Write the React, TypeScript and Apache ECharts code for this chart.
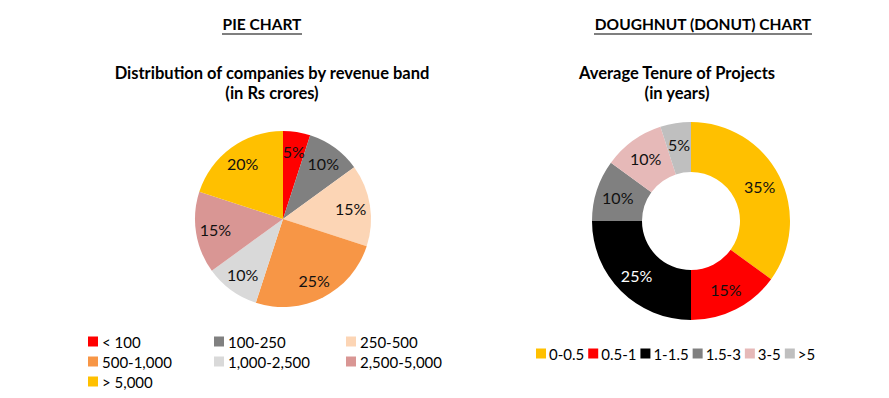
import React, { useEffect, useRef } from "react";
import * as echarts from "echarts";

const pieNames = ["< 100", "100-250", "250-500", "500-1,000", "1,000-2,500", "2,500-5,000", "> 5,000"];
const pieValues = [5, 10, 15, 25, 10, 15, 20];
const pieColors = ["#FF0000", "#808080", "#FCD5B5", "#F79646", "#D9D9D9", "#D99694", "#FFC000"];

const donutNames = ["0-0.5", "0.5-1", "1-1.5", "1.5-3", "3-5", ">5"];
const donutValues = [35, 15, 25, 10, 10, 5];
const donutColors = ["#FFC000", "#FF0000", "#000000", "#808080", "#E6B9B8", "#BFBFBF"];
const donutLabelColors = ["#111", "#111", "#ffffff", "#111", "#111", "#111"];

const legendCols = [
  ["< 100", "500-1,000", "> 5,000"],
  ["100-250", "1,000-2,500"],
  ["250-500", "2,500-5,000"],
];

const FONT = "Lato";

export default function App() {
  const ref = useRef<HTMLDivElement>(null);
  useEffect(() => {
    document.body.style.margin = "0";
    const chart = echarts.init(ref.current!, null, { renderer: "svg" });
    const pieData = pieNames.map((n, i) => ({ name: n, value: pieValues[i], itemStyle: { color: pieColors[i] } }));
    const donutData = donutNames.map((n, i) => ({
      name: n,
      value: donutValues[i],
      itemStyle: { color: donutColors[i] },
      label: { color: donutLabelColors[i] },
    }));
    const legendX = [88, 214, 346];
    const headStyle = { fontFamily: FONT, fontWeight: "bold", fontSize: 15.5, fill: "#000", textAlign: "center" };
    const titleStyle = { fontFamily: FONT, fontWeight: "bold", fontSize: 16.5, fill: "#000", textAlign: "center" };
    chart.setOption({
      animation: false,
      textStyle: { fontFamily: FONT },
      legend: [
        ...legendCols.map((col, i) => ({
          data: col,
          orient: "vertical",
          left: legendX[i],
          top: 334,
          itemWidth: 10,
          itemHeight: 10,
          itemGap: 5,
          icon: "rect",
          selectedMode: false,
          padding: 0,
          textStyle: { fontFamily: FONT, fontSize: 15, color: "#000", padding: [0, 0, 0, -1] },
        })),
        {
          data: donutNames,
          orient: "horizontal",
          left: 536,
          top: 346,
          itemWidth: 10,
          itemHeight: 10,
          itemGap: 4,
          icon: "rect",
          selectedMode: false,
          padding: 0,
          textStyle: { fontFamily: FONT, fontSize: 15, color: "#000", padding: [0, 0, 0, -2] },
        },
      ],
      graphic: [
        { type: "text", x: 262, y: 16, style: { ...headStyle, text: "PIE CHART" } },
        { type: "line", shape: { x1: 222, y1: 34, x2: 302, y2: 34 }, style: { stroke: "#000", lineWidth: 1.2 } },
        { type: "text", x: 272, y: 64, style: { ...titleStyle, text: "Distribution of companies by revenue band" } },
        { type: "text", x: 272, y: 84, style: { ...titleStyle, text: "(in Rs crores)" } },
        { type: "text", x: 703, y: 16, style: { ...headStyle, text: "DOUGHNUT (DONUT) CHART" } },
        { type: "line", shape: { x1: 594, y1: 34, x2: 812, y2: 34 }, style: { stroke: "#000", lineWidth: 1.2 } },
        { type: "text", x: 677, y: 64, style: { ...titleStyle, text: "Average Tenure of Projects" } },
        { type: "text", x: 677, y: 84, style: { ...titleStyle, text: "(in years)" } },
      ],
      series: [
        {
          type: "pie",
          center: [283, 219],
          radius: [0, 88],
          startAngle: 90,
          clockwise: true,
          label: { show: false },
          labelLine: { show: false },
          emphasis: { disabled: true },
          data: pieData,
        },
        {
          type: "pie",
          center: [283, 219],
          radius: [43, 88],
          startAngle: 90,
          clockwise: true,
          silent: true,
          label: { show: true, position: "inside", formatter: "{c}%", fontFamily: FONT, fontSize: 16, color: "#111" },
          labelLine: { show: false },
          emphasis: { disabled: true },
          data: pieNames.map((n, i) => ({ name: n, value: pieValues[i], itemStyle: { color: "rgba(0,0,0,0)" } })),
        },
        {
          type: "pie",
          center: [691, 221],
          radius: [49, 99],
          startAngle: 90,
          clockwise: true,
          label: { show: true, position: "inside", formatter: "{c}%", fontFamily: FONT, fontSize: 16 },
          labelLine: { show: false },
          emphasis: { disabled: true },
          data: donutData,
        },
      ],
    });
    return () => chart.dispose();
  }, []);
  return <div ref={ref} style={{ width: 889, height: 398 }} />;
}
